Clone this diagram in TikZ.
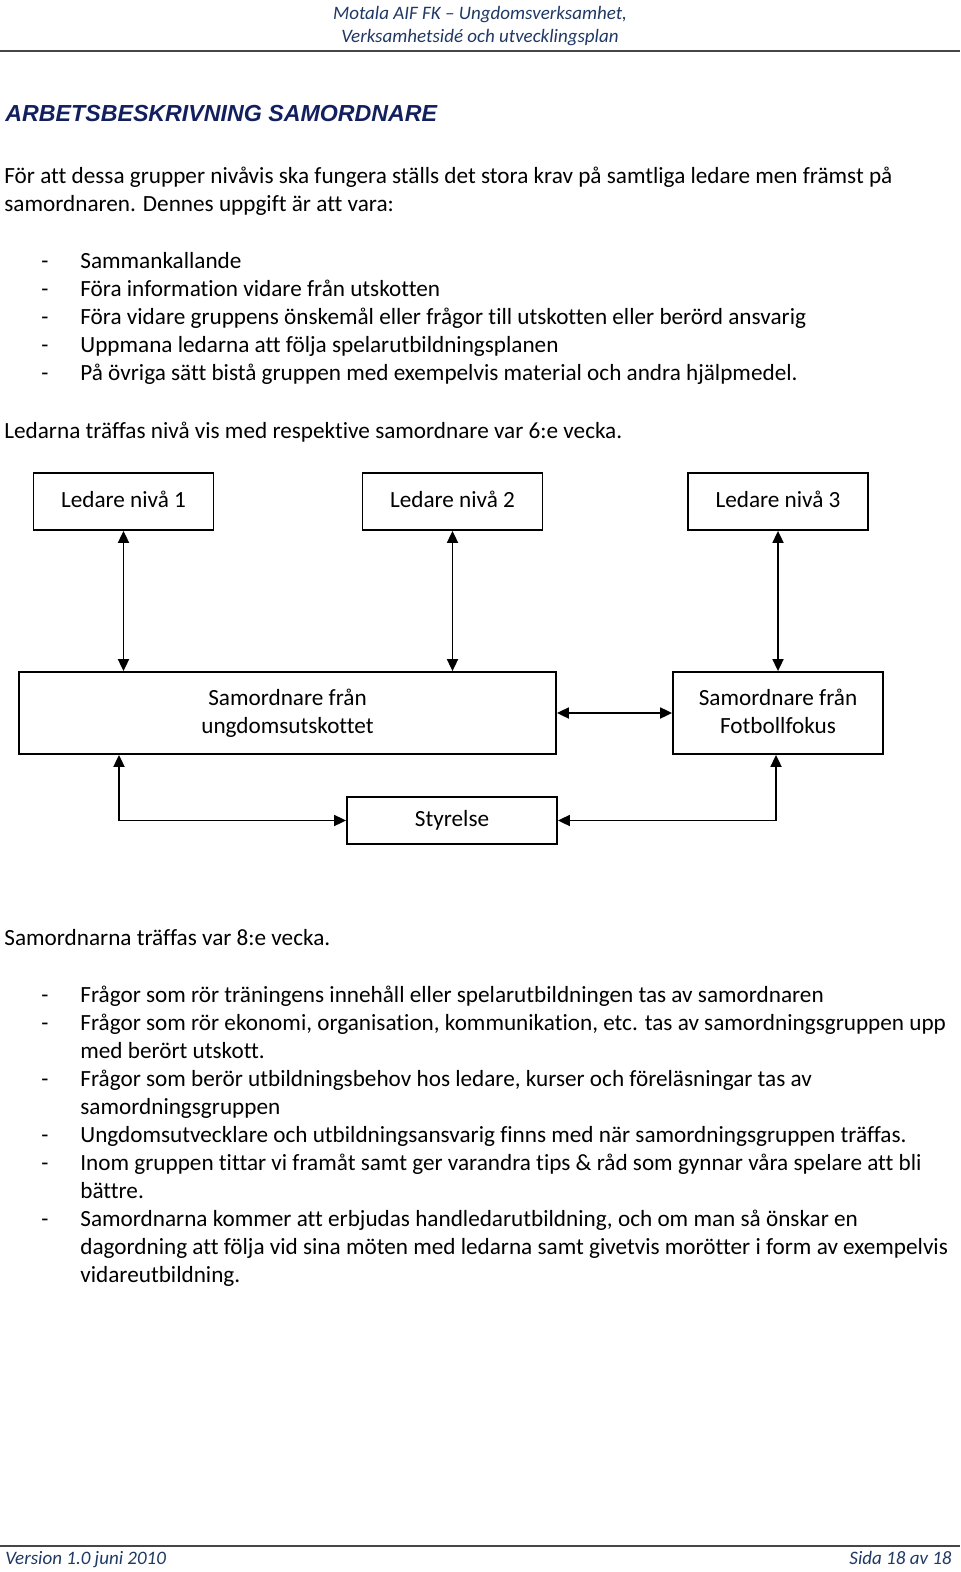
\documentclass[tikz,border=0pt]{standalone}
\usepackage{fontspec}
\setmainfont{Carlito}[Ligatures={NoCommon}]
\newfontfamily\arialfont{Liberation Sans}
\usetikzlibrary{arrows.meta}
\definecolor{hdr}{RGB}{31,56,100}
\definecolor{ttl}{RGB}{18,32,96}
\definecolor{rulegray}{RGB}{70,70,70}
\tikzset{
  txt/.style={anchor=base west, inner sep=0pt, font=\fontsize{11.6}{14}\selectfont},
  dashmark/.style={anchor=base west, inner sep=0pt, font=\fontsize{11.6}{14}\selectfont},
  box/.style={draw, line width=0.9pt, inner sep=0pt, align=center, font=\fontsize{11.6}{14}\selectfont},
  arr/.style={line width=0.9pt, {Triangle[length=6pt,width=5.5pt]}-{Triangle[length=6pt,width=5.5pt]}},
  hdrtxt/.style={anchor=base, inner sep=0pt, text=hdr, font=\fontsize{9.5}{11}\selectfont\itshape},
  foot/.style={inner sep=0pt, text=hdr, font=\fontsize{9.5}{11}\selectfont\itshape},
}
\begin{document}
\begin{tikzpicture}[x=0.5pt,y=-0.5pt]
\useasboundingbox (0,0) rectangle (960,1572);
% header
\node[hdrtxt] (h1) at (480,20) {Motala AIF FK – Ungdomsverksamhet,};
\node[hdrtxt] (h2) at (480,43) {Verksamhetsidé och utvecklingsplan};
\draw[rulegray, line width=1.2pt] (0,51) -- (960,51);
% title
\node[anchor=base west, inner sep=0pt, text=ttl, font=\fontsize{11.6}{13}\selectfont\arialfont\bfseries\itshape] (title) at (5,122) {ARBETSBESKRIVNING SAMORDNARE};
% paragraph
\node[txt] (p1) at (4,184) {För att dessa grupper nivåvis ska fungera ställs det stora krav på samtliga ledare men främst på};
\node[txt] (p2) at (4,212) {samordnaren. Dennes uppgift är att vara:};
% list 1
\foreach \y/\t [count=\i] in {269/Sammankallande, 297/Föra information vidare från utskotten, 325/Föra vidare gruppens önskemål eller frågor till utskotten eller berörd ansvarig, 353/Uppmana ledarna att följa spelarutbildningsplanen, 381/På övriga sätt bistå gruppen med exempelvis material och andra hjälpmedel.}{
  \node[dashmark] (da\i) at (41,\y) {-};
  \node[txt] (la\i) at (80,\y) {\t};
}
\node[txt] (p3) at (4,438) {Ledarna träffas nivå vis med respektive samordnare var 6:e vecka.};
% diagram
\node[box, minimum width=90pt, minimum height=28.5pt] (L1) at (123.5,501.5) {Ledare nivå 1\strut};
\node[box, minimum width=90pt, minimum height=28.5pt] (L2) at (452.5,501.5) {Ledare nivå 2\strut};
\node[box, minimum width=90pt, minimum height=28.5pt] (L3) at (778,501.5) {Ledare nivå 3\strut};
\node[box, minimum width=268.5pt, minimum height=41pt] (S1) at (287.5,713) {Samordnare från\\ungdomsutskottet};
\node[box, minimum width=105pt, minimum height=41pt] (S2) at (778,713) {Samordnare från\\Fotbollfokus\vphantom{g}};
\node[box, minimum width=105pt, minimum height=23.5pt] (Sty) at (452,820.5) {Styrelse};
\draw[arr] (L1.south) -- (L1.south |- S1.north);
\draw[arr] (L2.south) -- (L2.south |- S1.north);
\draw[arr] (L3.south) -- (L3.south |- S2.north);
\draw[arr] (S1.east) -- (S2.west);
\coordinate (c1) at (119,820.5);
\coordinate (c2) at (776,820.5);
\draw[arr] (c1 |- S1.south) -- (c1) -- (Sty.west);
\draw[arr] (c2 |- S2.south) -- (c2) -- (Sty.east);
% text after diagram
\node[txt] (p4) at (4,945) {Samordnarna träffas var 8:e vecka.};
\foreach \y in {1002,1030,1086,1142,1170,1226}{
  \node[dashmark] at (41,\y) {-};
}
\node[txt] (b1) at (80,1002) {Frågor som rör träningens innehåll eller spelarutbildningen tas av samordnaren};
\node[txt] (b2) at (80,1030) {Frågor som rör ekonomi, organisation, kommunikation, etc. tas av samordningsgruppen upp};
\node[txt] (b2b) at (80,1058) {med berört utskott.};
\node[txt] (b3) at (80,1086) {Frågor som berör utbildningsbehov hos ledare, kurser och föreläsningar tas av};
\node[txt] (b3b) at (80,1114) {samordningsgruppen};
\node[txt] (b4) at (80,1142) {Ungdomsutvecklare och utbildningsansvarig finns med när samordningsgruppen träffas.};
\node[txt] (b5) at (80,1170) {Inom gruppen tittar vi framåt samt ger varandra tips \& råd som gynnar våra spelare att bli};
\node[txt] (b5b) at (80,1198) {bättre.};
\node[txt] (b6) at (80,1226) {Samordnarna kommer att erbjudas handledarutbildning, och om man så önskar en};
\node[txt] (b6b) at (80,1254) {dagordning att följa vid sina möten med ledarna samt givetvis morötter i form av exempelvis};
\node[txt] (b6c) at (80,1282) {vidareutbildning.};
% footer
\draw[rulegray, line width=1.2pt] (0,1546) -- (960,1546);
\node[foot, anchor=base west] (f1) at (5,1564) {Version 1.0 juni 2010};
\node[foot, anchor=base east] (f2) at (952,1564) {Sida 18 av 18};
\end{tikzpicture}
\end{document}
